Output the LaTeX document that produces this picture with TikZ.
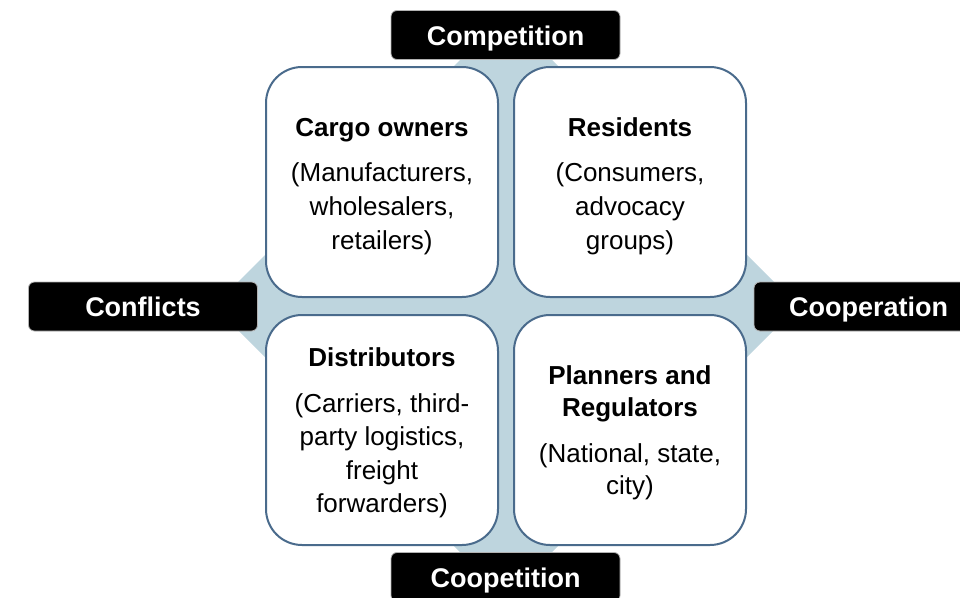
\documentclass[tikz,border=0pt]{standalone}
\usepackage{fontspec}
\setmainfont{Liberation Sans}
\definecolor{edgeblue}{HTML}{4A6B8C}
\definecolor{diamondblue}{HTML}{BED5DE}
\begin{document}
\begin{tikzpicture}[x=1pt,y=-1pt,
  quad/.style={draw=edgeblue, line width=2pt, fill=white, rounded corners=36pt,
    minimum width=232pt, minimum height=230pt, inner sep=0pt},
  quadtext/.style={align=center, inner sep=0pt, font=\fontsize{26}{#1}\selectfont},
  quadtext/.default=34,
  tag/.style={fill=black, draw=gray!60, line width=0.8pt, rounded corners=6pt,
    minimum width=229pt, minimum height=49pt, inner sep=0pt, text=white,
    text height=20.5pt, text depth=0pt,
    font=\fontsize{27}{30}\selectfont\bfseries}]
  \useasboundingbox (0,0) rectangle (960,597);
  % background diamond
  \fill[diamondblue] (506,14) -- (798,306) -- (506,598) -- (214,306) -- cycle;
  % stakeholder quadrants
  \node[quad] (cargo) at (382,182) {};
  \node[quad] (residents) at (630,182) {};
  \node[quad] (distributors) at (382,430) {};
  \node[quad] (planners) at (630,430) {};
  % quadrant texts
  \node[quadtext] (cargo-text) at ([yshift=-4.5pt]cargo.center)
    {\textbf{Cargo owners}\\[11pt](Manufacturers,\\ wholesalers,\\ retailers)};
  \node[quadtext] (residents-text) at ([yshift=-4.5pt]residents.center)
    {\textbf{Residents}\\[11pt](Consumers,\\ advocacy\\ groups)};
  \node[quadtext=33.5] (distributors-text) at ([yshift=-3pt]distributors.center)
    {\textbf{Distributors}\\[12pt](Carriers, third-\\ party logistics,\\ freight\\ forwarders)};
  \node[quadtext=32.5] (planners-text) at ([yshift=-3pt]planners.center)
    {\textbf{Planners and}\\ \textbf{Regulators}\\[13pt](National, state,\\ city)};
  % relationship labels
  \node[tag] (competition) at (505.5,35) {Competition};
  \node[tag] (coopetition) at (505.5,577) {Coopetition};
  \node[tag] (conflicts) at (143,306.5) {Conflicts};
  \node[tag] (cooperation) at (868.5,306.5) {Cooperation};
\end{tikzpicture}
\end{document}
